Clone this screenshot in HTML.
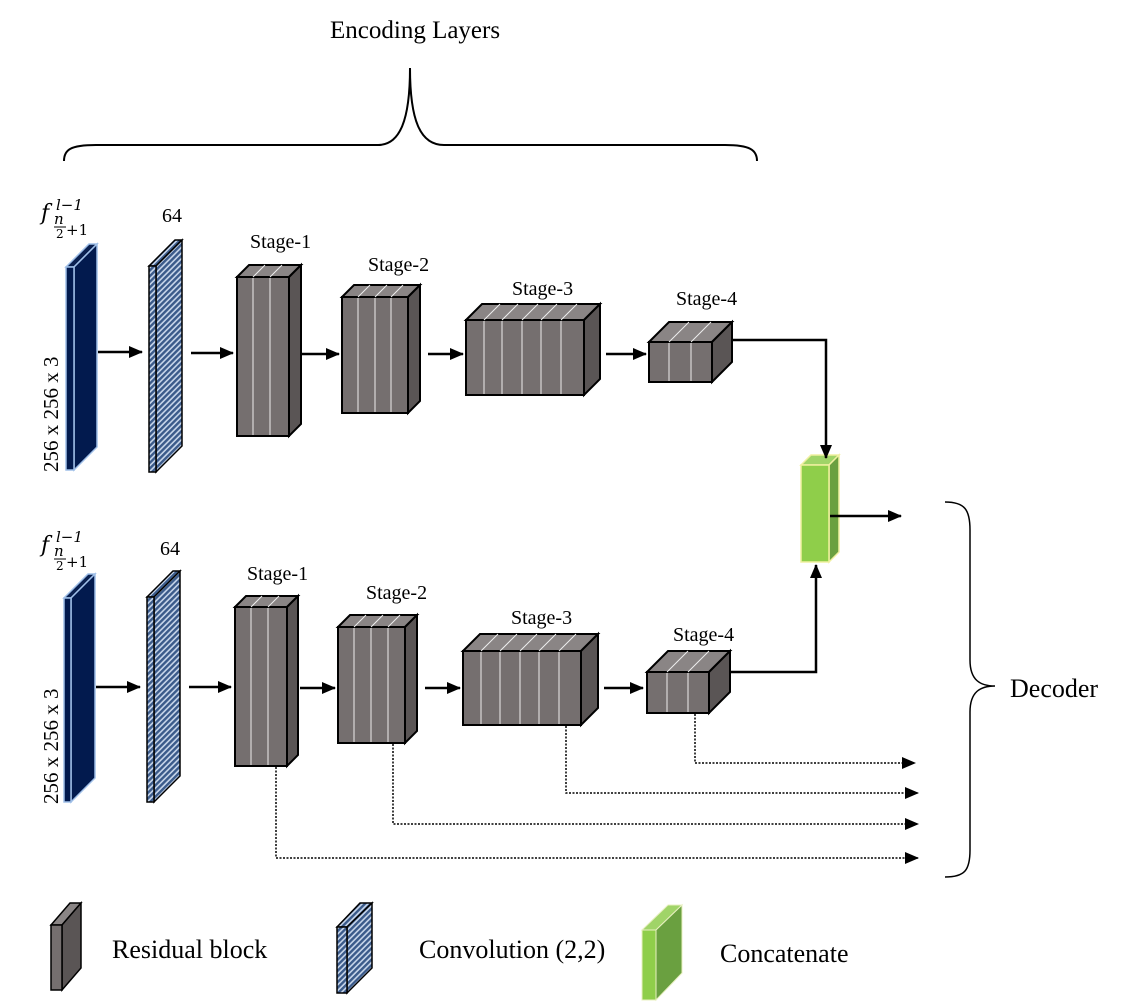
<!DOCTYPE html>
<html><head><meta charset="utf-8"><style>html,body{margin:0;padding:0;background:#fff}svg{display:block}</style></head><body>
<svg width="1126" height="1005" viewBox="0 0 1126 1005" xmlns="http://www.w3.org/2000/svg" font-family="Liberation Serif, serif">
<defs>
<marker id="ar2" markerWidth="14" markerHeight="12" refX="13" refY="6" orient="auto" markerUnits="userSpaceOnUse"><path d="M0,0 L14,6 L0,12 z" fill="#000"/></marker>
<pattern id="hatch" width="4" height="4" patternUnits="userSpaceOnUse" patternTransform="rotate(45)"><rect width="4" height="4" fill="#c8d6ea"/><rect width="2.4" height="4" fill="#3a5a8a"/></pattern>
</defs>
<g fill="none" stroke="#000" stroke-width="2">
<path d="M64,161 C64,150 70,145 96,145 L378,145 C400,145 410,120 410,68 C410,120 420,145 444,145 L725,145 C750,145 757,150 757,161"/>
<path d="M945,502 C965,502 970,510 970,530 L970,660 C970,680 980,686 995,686 C980,686 970,692 970,712 L970,850 C970,870 965,877 945,877" stroke-width="1.5"/>
</g>
<text x="330" y="38" font-size="25">Encoding Layers</text>
<text x="1010" y="697" font-size="26">Decoder</text>

<g stroke="#9fbfe8" stroke-width="1.5">
<polygon points="66,267 89,244 97,244 74,267" fill="#0a2050"/>
<polygon points="74,267 97,244 97,447 74,470" fill="#021a4e"/>
<rect x="66" y="267" width="8" height="203" fill="#021a4e"/>
<polygon points="64,598 88,574 95,574 71,598" fill="#0a2050"/>
<polygon points="71,598 95,574 95,778 71,802" fill="#021a4e"/>
<rect x="64" y="598" width="7" height="204" fill="#021a4e"/>
</g>
<g stroke="#000" stroke-width="1.5">
<polygon points="149,266 175,240 182,240 156,266" fill="url(#hatch)"/>
<polygon points="156,266 182,240 182,446 156,472" fill="url(#hatch)"/>
<rect x="149" y="266" width="7" height="206" fill="url(#hatch)"/>
<polygon points="147,597 173,571 180,571 154,597" fill="url(#hatch)"/>
<polygon points="154,597 180,571 180,776 154,802" fill="url(#hatch)"/>
<rect x="147" y="597" width="7" height="205" fill="url(#hatch)"/>
</g>
<g stroke="#000" stroke-width="2" stroke-linejoin="miter">
<polygon points="237,277 249,265 301,265 289,277" fill="#8a8585"/>
<polygon points="289,277 301,265 301,424 289,436" fill="#5a5555"/>
<rect x="237" y="277" width="52" height="159" fill="#756f6f"/>
<polygon points="342,297 354,285 420,285 408,297" fill="#8a8585"/>
<polygon points="408,297 420,285 420,401 408,413" fill="#5a5555"/>
<rect x="342" y="297" width="66" height="116" fill="#756f6f"/>
<polygon points="466,320 482,304 600,304 584,320" fill="#8a8585"/>
<polygon points="584,320 600,304 600,379 584,395" fill="#5a5555"/>
<rect x="466" y="320" width="118" height="75" fill="#756f6f"/>
<polygon points="649,342 669,322 732,322 712,342" fill="#8a8585"/>
<polygon points="712,342 732,322 732,362 712,382" fill="#5a5555"/>
<rect x="649" y="342" width="63" height="40" fill="#756f6f"/>
<polygon points="235,607 246,596 298,596 287,607" fill="#8a8585"/>
<polygon points="287,607 298,596 298,755 287,766" fill="#5a5555"/>
<rect x="235" y="607" width="52" height="159" fill="#756f6f"/>
<polygon points="338,627 350,615 417,615 405,627" fill="#8a8585"/>
<polygon points="405,627 417,615 417,731 405,743" fill="#5a5555"/>
<rect x="338" y="627" width="67" height="116" fill="#756f6f"/>
<polygon points="463,651 480,634 598,634 581,651" fill="#8a8585"/>
<polygon points="581,651 598,634 598,708 581,725" fill="#5a5555"/>
<rect x="463" y="651" width="118" height="74" fill="#756f6f"/>
<polygon points="647,672 668,651 730,651 709,672" fill="#8a8585"/>
<polygon points="709,672 730,651 730,692 709,713" fill="#5a5555"/>
<rect x="647" y="672" width="62" height="41" fill="#756f6f"/>
</g>
<g stroke="#eee" stroke-width="1">
<path d="M253,278V435M253,277l12,-12M270,278V435M270,277l12,-12"/>
<path d="M358,298V412M358,297l12,-12M375,298V412M375,297l12,-12M391,298V412M391,297l12,-12"/>
<path d="M484,321V394M484,320l16,-16M502,321V394M502,320l16,-16M522,321V394M522,320l16,-16M541,321V394M541,320l16,-16M561,321V394M561,320l16,-16"/>
<path d="M669,343V381M669,342l20,-20M691,343V381M691,342l20,-20"/>
<path d="M251,608V765M251,607l11,-11M268,608V765M268,607l11,-11"/>
<path d="M354,628V742M354,627l12,-12M371,628V742M371,627l12,-12M388,628V742M388,627l12,-12"/>
<path d="M481,652V724M481,651l17,-17M500,652V724M500,651l17,-17M520,652V724M520,651l17,-17M539,652V724M539,651l17,-17M559,652V724M559,651l17,-17"/>
<path d="M667,673V712M667,672l21,-21M688,673V712M688,672l21,-21"/>
</g>
<g stroke="#f0f0a0" stroke-width="1.5">
<polygon points="801,465 811,455 839,455 829,465" fill="#a0d468"/>
<polygon points="829,465 839,455 839,552 829,562" fill="#6aa040"/>
<rect x="801" y="465" width="28" height="97" fill="#8fce4a"/>
</g>
<g stroke="#000" stroke-width="2.5" fill="none" marker-end="url(#ar2)">
<path d="M98,352H142"/><path d="M191,353H233"/><path d="M302,354H339"/><path d="M428,354H463"/><path d="M606,354H646"/>
<path d="M96,687H140"/><path d="M189,687H231"/><path d="M300,688H335"/><path d="M425,688H460"/><path d="M604,688H643"/>
<path d="M733,340H826V458"/><path d="M731,672H816V565"/><path d="M830,516H901"/>
</g>
<g stroke="#000" stroke-width="1.5" fill="none" stroke-dasharray="2,1.5" marker-end="url(#ar2)">
<path d="M695,714V763H915"/><path d="M566,726V793H918"/><path d="M393,744V824H918"/><path d="M276,767V858H918"/>
</g>
<g font-size="20">
<text x="162" y="222">64</text><text x="160" y="555">64</text>
<text x="250" y="248">Stage-1</text><text x="368" y="271">Stage-2</text><text x="512" y="295">Stage-3</text><text x="676" y="305">Stage-4</text>
<text x="247" y="580">Stage-1</text><text x="366" y="599">Stage-2</text><text x="511" y="624">Stage-3</text><text x="673" y="641">Stage-4</text>
</g>
<g font-family="DejaVu Serif, serif" font-style="italic">
<text x="41" y="220" font-size="22">f</text><text x="56" y="210" font-size="15">l−1</text><text x="54" y="224" font-size="15">n</text>
<line x1="54" y1="227" x2="66" y2="227" stroke="#000" stroke-width="1"/><text x="56" y="238" font-size="12" font-style="normal">2</text><text x="66" y="235" font-size="15" font-style="normal">+1</text>
<text x="41" y="552" font-size="22">f</text><text x="56" y="542" font-size="15">l−1</text><text x="54" y="556" font-size="15">n</text>
<line x1="54" y1="559" x2="66" y2="559" stroke="#000" stroke-width="1"/><text x="56" y="570" font-size="12" font-style="normal">2</text><text x="66" y="567" font-size="15" font-style="normal">+1</text>
</g>
<text transform="translate(58,472) rotate(-90)" font-size="21">256 x 256 x 3</text>
<text transform="translate(58,804) rotate(-90)" font-size="21">256 x 256 x 3</text>
<g stroke="#000" stroke-width="1.5">
<polygon points="51,925 70,903 81,903 62,925" fill="#8a8585"/>
<polygon points="62,925 81,903 81,968 62,990" fill="#5a5555"/>
<rect x="51" y="925" width="11" height="65" fill="#756f6f"/>
<polygon points="337,927 360,903 372,903 347,927" fill="url(#hatch)"/>
<polygon points="347,927 372,903 372,968 347,993" fill="url(#hatch)"/>
<rect x="337" y="927" width="10" height="66" fill="url(#hatch)"/>
</g>
<g stroke="#e8f0c0" stroke-width="1">
<polygon points="642,930 668,905 682,905 656,930" fill="#a0d468"/>
<polygon points="656,930 682,905 682,973 656,1000" fill="#6aa040"/>
<rect x="642" y="930" width="14" height="70" fill="#8fce4a"/>
</g>
<g font-size="26"><text x="112" y="958">Residual block</text><text x="419" y="958">Convolution (2,2)</text><text x="720" y="962">Concatenate</text></g>
</svg>
</body></html>
